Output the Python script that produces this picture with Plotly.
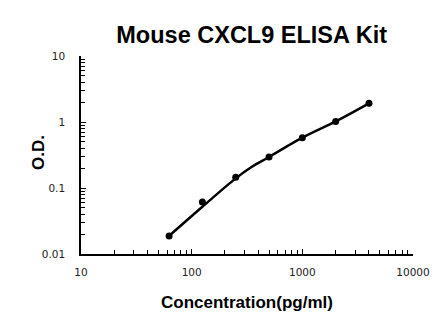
import plotly.graph_objects as go

# Data
concentration = [62.5, 125, 250, 500, 1000, 2000, 4000]
od_values = [0.0188, 0.0614, 0.145, 0.295, 0.578, 1.02, 1.92]

# Fitted standard curve
fit_conc = [62.5, 125, 250, 350, 500, 1000, 2000, 4000]
fit_od = [0.0188, 0.052, 0.14, 0.21, 0.295, 0.578, 1.02, 1.92]

title_text = "Mouse CXCL9 ELISA Kit"
x_title = "Concentration(pg/ml)"
y_title = "O.D."
x_tickvals = [10, 100, 1000, 10000]
x_ticktext = ["10", "100", "1000", "10000"]
y_tickvals = [0.01, 0.1, 1, 10]
y_ticktext = ["0.01", "0.1", "1", "10"]

fig = go.Figure()
fig.add_trace(go.Scatter(x=fit_conc, y=fit_od, mode="lines",
                         line=dict(color="black", width=2.5, shape="spline", smoothing=1.0),
                         hoverinfo="skip", showlegend=False))
fig.add_trace(go.Scatter(x=concentration, y=od_values, mode="markers",
                         marker=dict(color="black", size=7), showlegend=False))

tick_font = dict(family="DejaVu Sans", size=10.5, color="#222")
fig.update_layout(
    width=446, height=326,
    margin=dict(l=81, r=33, t=56, b=72),
    paper_bgcolor="white", plot_bgcolor="white",
    showlegend=False,
    title=dict(text="<b>" + title_text + "</b>", x=0.514, xref="paper", xanchor="center",
               y=1 - 35 / 326, yref="container", yanchor="middle",
               font=dict(family="Liberation Sans", size=23.5, color="black")),
    xaxis=dict(type="log", range=[1, 4], tickvals=x_tickvals, ticktext=x_ticktext,
               showgrid=False, zeroline=False, showline=True, linecolor="black", linewidth=1.5,
               ticks="inside", ticklen=5, tickcolor="black", tickwidth=1,
               minor=dict(ticks="inside", ticklen=4, tickcolor="black", tickwidth=1,
                          dtick="D1", showgrid=False),
               tickfont=tick_font, ticklabelstandoff=8),
    yaxis=dict(type="log", range=[-2, 1], tickvals=y_tickvals, ticktext=y_ticktext,
               showgrid=False, zeroline=False, showline=True, linecolor="black", linewidth=1.5,
               ticks="inside", ticklen=5, tickcolor="black", tickwidth=1,
               minor=dict(ticks="inside", ticklen=4, tickcolor="black", tickwidth=1,
                          dtick="D1", showgrid=False),
               tickfont=tick_font, ticklabelstandoff=12),
    annotations=[
        dict(text="<b>" + x_title + "</b>", xref="paper", yref="paper", x=0.5, y=0,
             yshift=-48, xanchor="center", yanchor="middle", showarrow=False,
             font=dict(family="Liberation Sans", size=17, color="black")),
        dict(text="<b>" + y_title + "</b>", xref="paper", yref="paper", x=0, y=0.51,
             xshift=-43, textangle=-90, xanchor="center", yanchor="middle", showarrow=False,
             font=dict(family="Liberation Sans", size=17, color="black")),
    ],
)

fig.write_html("out.html")
